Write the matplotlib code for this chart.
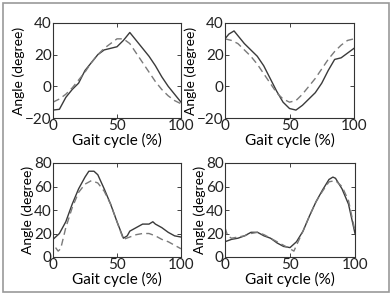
import matplotlib
matplotlib.use("Agg")
import matplotlib.pyplot as plt
from matplotlib.patches import Rectangle

plt.rcParams['font.family'] = ['Lato', 'DejaVu Sans']

# Top-left panel
tl_sx = [0, 5, 10, 15, 20, 25, 30, 35, 40, 45, 50, 55, 60, 65, 70, 75, 80, 85, 90, 95, 100]
tl_solid = [-15, -14.5, -7, -2, 2, 10, 15, 20, 23, 24, 25, 29, 34, 29, 24, 19, 13, 6, 0, -5, -10]
tl_dash = [-10, -8, -5, -1, 4, 9, 15, 20, 24, 27, 30, 30, 27, 21, 15, 9, 3, -2, -6, -9, -11]

# Top-right panel
tr_sx = [0, 3, 7, 10, 15, 20, 25, 30, 35, 40, 45, 50, 55, 60, 65, 70, 75, 80, 85, 90, 95, 100]
tr_solid = [30, 33, 35, 32, 27, 23, 19, 13, 5, -3, -10, -14, -15, -12, -8, -4, 2, 10, 17, 18, 21, 24]
tr_dx = [0, 5, 10, 15, 20, 25, 30, 35, 40, 45, 50, 55, 60, 65, 70, 75, 80, 85, 90, 95, 100]
tr_dash = [30, 29, 27, 23, 19, 14, 8, 2, -4, -8, -10, -9, -5, 0, 5, 11, 17, 22, 26, 29, 30]

# Bottom-left panel
bl_sx = [0, 5, 10, 15, 20, 25, 28, 32, 35, 40, 45, 50, 55, 58, 60, 65, 70, 75, 78, 80, 85, 90, 95, 100]
bl_solid = [15, 20, 30, 45, 58, 68, 73, 73, 70, 58, 45, 30, 16, 18, 22, 25, 28, 28, 30, 28, 25, 21, 18, 17]
bl_dx = [2, 4, 6, 10, 15, 20, 25, 30, 35, 40, 45, 50, 55, 60, 65, 70, 75, 80, 85, 90, 95, 100]
bl_dash = [8, 5, 7, 25, 42, 55, 62, 65, 63, 56, 45, 30, 15, 17, 19, 20, 20, 18, 15, 13, 10, 7]

# Bottom-right panel
br_sx = [0, 5, 10, 15, 20, 25, 30, 35, 40, 45, 50, 55, 60, 65, 70, 75, 80, 83, 85, 90, 95, 100]
br_solid = [13, 15, 16, 18, 21, 21, 18, 16, 12, 9, 8, 13, 22, 35, 47, 57, 66, 68, 67, 58, 45, 20]
br_dx = [0, 2, 5, 10, 15, 20, 25, 30, 35, 40, 45, 50, 53, 55, 60, 65, 70, 75, 80, 85, 90, 95, 100]
br_dash = [25, 18, 16, 17, 18, 20, 21, 19, 16, 13, 10, 7, 5, 10, 22, 35, 47, 56, 64, 65, 60, 48, 22]

xticks = [0, 50, 100]
top_yticks = [-20, 0, 20, 40]
bot_yticks = [0, 20, 40, 60, 80]

W, H = 392, 296
fig = plt.figure(figsize=(W / 100, H / 100), dpi=100)
fig.patches.append(Rectangle((3 / W, 4 / H), 386 / W, 289 / H, transform=fig.transFigure,
                             fill=False, edgecolor='#999999', linewidth=1.2))

def ax_at(x0, y0, x1, y1):
    return fig.add_axes([x0 / W, 1 - y1 / H, (x1 - x0) / W, (y1 - y0) / H])

panels = [
    ((53, 23, 181, 118), tl_sx, tl_solid, tl_sx, tl_dash, top_yticks),
    ((225, 23, 354, 118), tr_sx, tr_solid, tr_dx, tr_dash, top_yticks),
    ((53, 163, 181, 257), bl_sx, bl_solid, bl_dx, bl_dash, bot_yticks),
    ((225, 163, 355, 257), br_sx, br_solid, br_dx, br_dash, bot_yticks),
]

for box, sx, sy, dx, dy, yt in panels:
    ax = ax_at(*box)
    ax.plot(sx, sy, color='#3a3a3a', lw=1.0)
    ax.plot(dx, dy, color='#7a7a7a', lw=1.0, dashes=(5, 3))
    ax.set_xlim(0, 100)
    ax.set_ylim(yt[0], yt[-1])
    ax.set_xticks(xticks)
    ax.set_yticks(yt)
    ax.tick_params(direction='in', length=3, width=0.6, labelsize=11, pad=1,
                   top=True, right=True, colors='#222222')
    for s in ax.spines.values():
        s.set_linewidth(0.8)
        s.set_color('#333333')
    ax.set_xlabel('Gait cycle (%)', fontsize=11, labelpad=0)
    ax.set_ylabel('Angle (degree)', fontsize=10, labelpad=0)

fig.savefig('out.png', dpi=100, facecolor='white')
